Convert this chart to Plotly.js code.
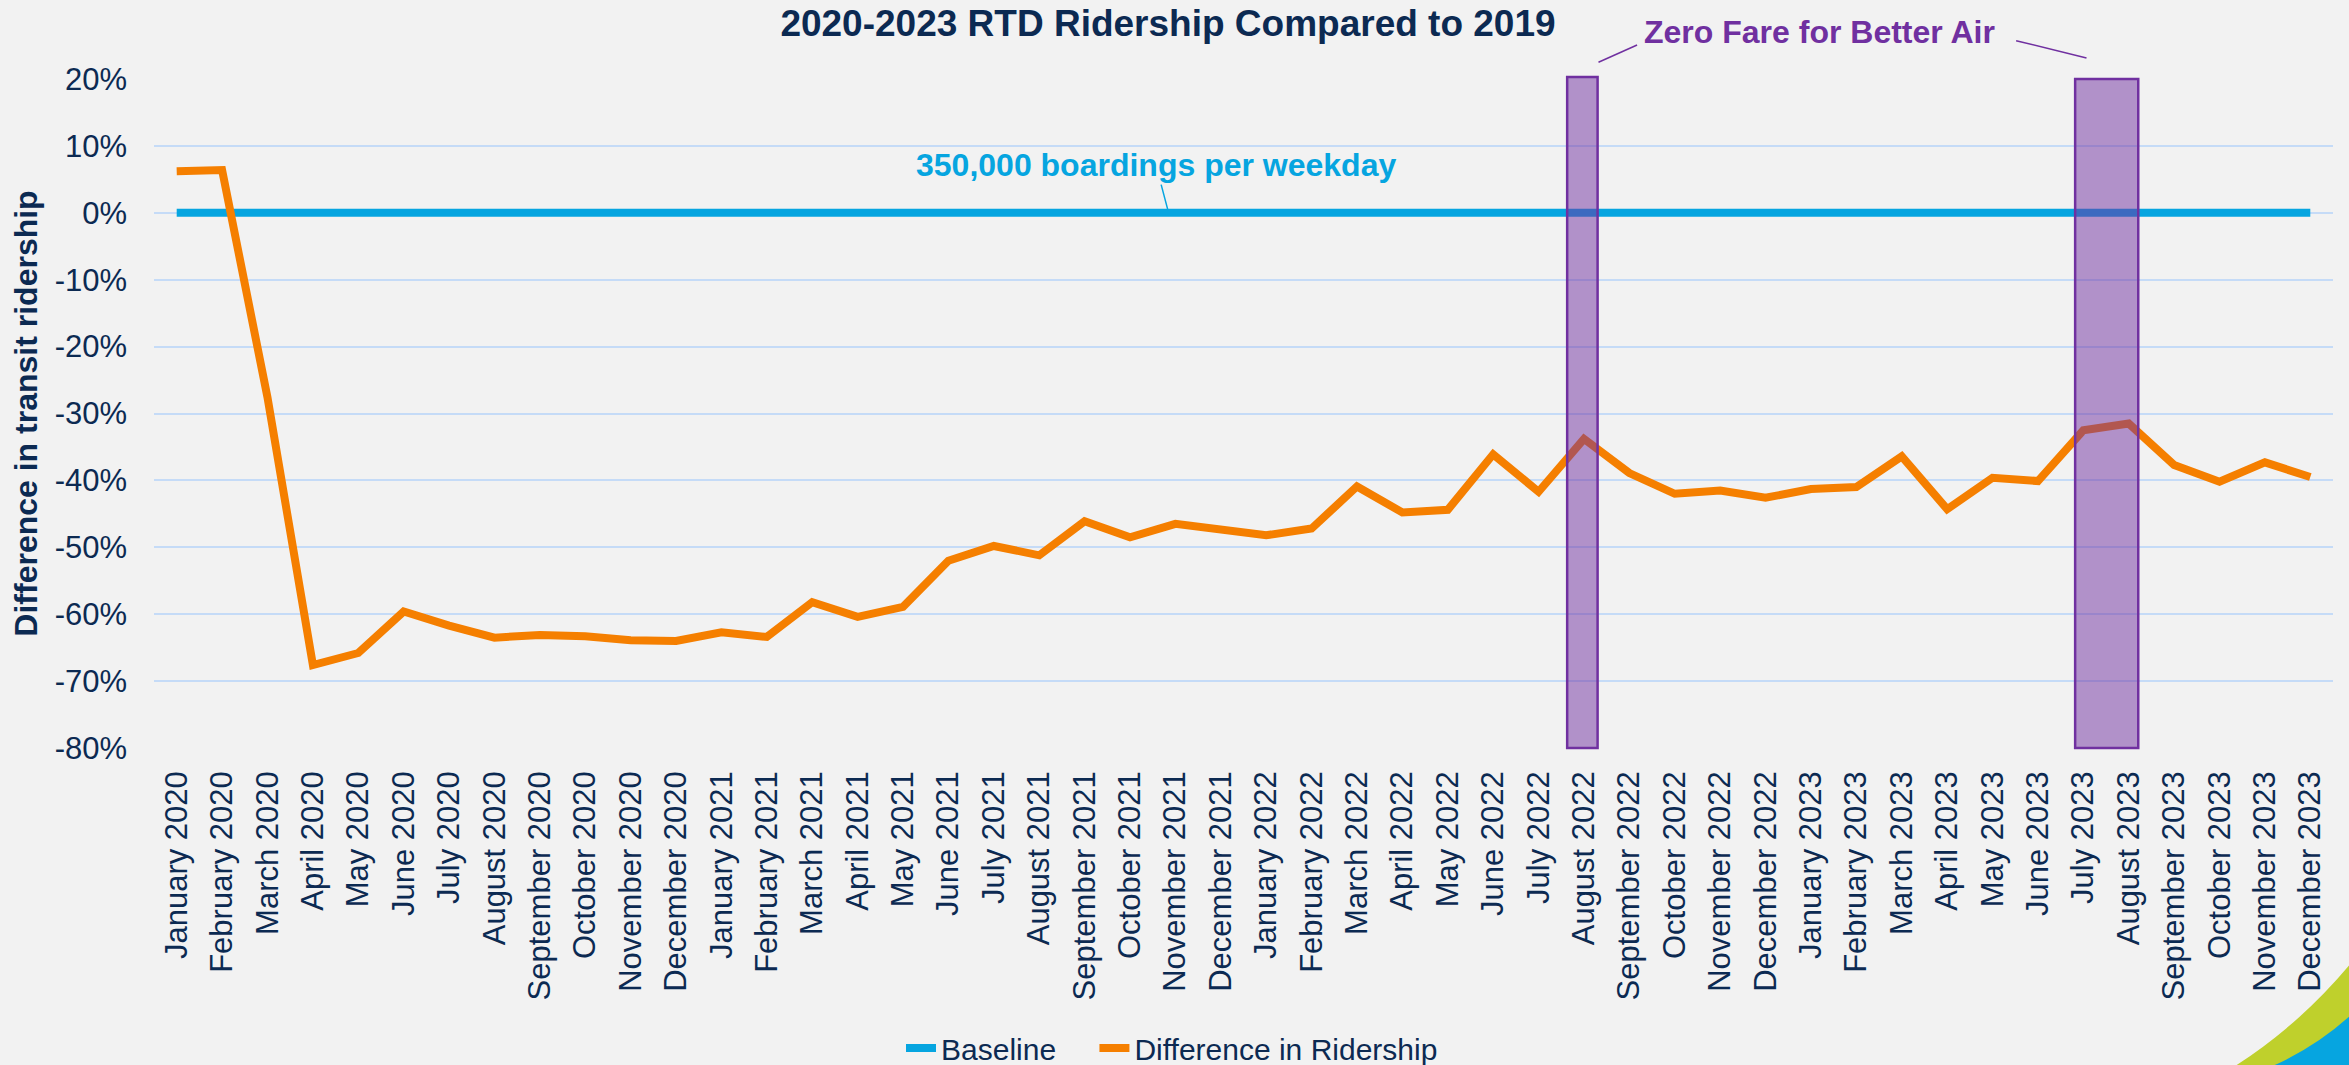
<!DOCTYPE html>
<html>
<head>
<meta charset="utf-8">
<script src="https://cdn.plot.ly/plotly-3.0.1.min.js"></script>
<style>
  html, body { margin: 0; padding: 0; background: #F2F2F2; }
  #chart { width: 2349px; height: 1065px; }
</style>
</head>
<body>
<div id="chart"></div>
<script>
// ---- data ----
const months = [
  "January 2020","February 2020","March 2020","April 2020","May 2020","June 2020",
  "July 2020","August 2020","September 2020","October 2020","November 2020","December 2020",
  "January 2021","February 2021","March 2021","April 2021","May 2021","June 2021",
  "July 2021","August 2021","September 2021","October 2021","November 2021","December 2021",
  "January 2022","February 2022","March 2022","April 2022","May 2022","June 2022",
  "July 2022","August 2022","September 2022","October 2022","November 2022","December 2022",
  "January 2023","February 2023","March 2023","April 2023","May 2023","June 2023",
  "July 2023","August 2023","September 2023","October 2023","November 2023","December 2023"
];
const baseline = months.map(() => 0);
const differenceInRidership = [
  6.2, 6.4, -27.6, -67.6, -65.8, -59.6, -61.7, -63.5, -63.1, -63.3, -63.9, -64.0,
  -62.7, -63.4, -58.2, -60.4, -58.9, -52.0, -49.8, -51.2, -46.1, -48.5, -46.5, -47.2,
  -48.2, -47.2, -40.9, -44.8, -44.4, -36.1, -41.7, -33.8, -38.9, -42.0, -41.5, -42.6,
  -41.3, -41.0, -36.4, -44.3, -39.6, -40.1, -32.5, -31.5, -37.7, -40.2, -37.3, -39.5
];
const zeroFarePeriods = [["August 2022", "August 2022"], ["July 2023", "August 2023"]];
const yTickValues = [20, 10, 0, -10, -20, -30, -40, -50, -60, -70, -80];
const seriesNames = ["Baseline", "Difference in Ridership"];

// ---- styling / layout ----
const W = 2349, H = 1065;
const M = { l: 154, r: 16, t: 79, b: 317 };
const plotW = W - M.l - M.r, plotH = H - M.t - M.b;
const px2paperX = px => (px - M.l) / plotW;
const px2paperY = py => (H - M.b - py) / plotH;

const NAVY = "#0C2A52";
const BLUE = "#06A5E0";
const ORANGE = "#F57F00";
const PURPLE = "#7030A0";
const FONT = "Arial, 'Liberation Sans', sans-serif";
const NBSP = "\u00A0";

const idx = m => months.indexOf(m);
const pads = [[0.37, 0.30], [0.18, 0.21]];
const tops = [1.003, 1.0];

const shapes = [];
zeroFarePeriods.forEach((p, i) => {
  shapes.push({
    type: "rect", layer: "above",
    xref: "x", yref: "paper",
    x0: idx(p[0]) - pads[i][0], x1: idx(p[1]) + pads[i][1],
    y0: 0, y1: tops[i],
    fillcolor: "rgba(112,48,160,0.5)",
    line: { color: PURPLE, width: 2.5 }
  });
});
// leader lines for the "Zero Fare" label
shapes.push({ type: "line", xref: "x", yref: "paper", layer: "above",
  x0: 32.17, y0: px2paperY(45), x1: 31.32, y1: px2paperY(62.3),
  line: { color: PURPLE, width: 1.5 } });
shapes.push({ type: "line", xref: "x", yref: "paper", layer: "above",
  x0: 40.52, y0: px2paperY(40.7), x1: 42.07, y1: px2paperY(58),
  line: { color: PURPLE, width: 1.5 } });

// decorative corner swoosh
function pathPx(pts) {
  return pts.map(c => px2paperX(c[0]).toFixed(5) + "," + px2paperY(c[1]).toFixed(5)).join(" ");
}
shapes.push({ type: "path", xref: "paper", yref: "paper", layer: "above",
  path: "M" + pathPx([[2232, 1068]]) + " Q" + pathPx([[2300, 1025], [2352, 962]]) + " L" + pathPx([[2352, 1068]]) + " Z",
  fillcolor: "#BFD02C", line: { width: 0 } });
shapes.push({ type: "path", xref: "paper", yref: "paper", layer: "above",
  path: "M" + pathPx([[2268, 1068]]) + " Q" + pathPx([[2315, 1048], [2352, 1014]]) + " L" + pathPx([[2352, 1068]]) + " Z",
  fillcolor: "#06A5E0", line: { width: 0 } });

const traces = [
  {
    type: "scatter", mode: "lines", name: seriesNames[0] + NBSP.repeat(4),
    x: months, y: baseline,
    line: { color: BLUE, width: 8 },
    hoverinfo: "skip"
  },
  {
    type: "scatter", mode: "lines", name: seriesNames[1],
    x: months, y: differenceInRidership,
    line: { color: ORANGE, width: 8 },
    hoverinfo: "skip"
  }
];

const layout = {
  width: W, height: H,
  paper_bgcolor: "#F2F2F2",
  plot_bgcolor: "#F2F2F2",
  margin: M,
  showlegend: true,
  font: { family: FONT, color: NAVY, size: 30 },
  title: {
    text: "2020-2023 RTD Ridership Compared to 2019",
    font: { family: FONT, size: 37, color: NAVY, weight: "bold" },
    xref: "container", yref: "container",
    x: 1168 / W, xanchor: "center",
    y: 1 - 23 / H, yanchor: "middle"
  },
  xaxis: {
    type: "category",
    range: [-0.5, months.length - 0.5],
    tickangle: -90,
    tickfont: { family: FONT, size: 31, color: NAVY },
    ticklabelstandoff: 16,
    showgrid: false,
    zeroline: false,
    showline: false,
    ticks: ""
  },
  yaxis: {
    range: [-80, 20],
    tickvals: yTickValues,
    ticktext: yTickValues.map(v => v + "%"),
    tickfont: { family: FONT, size: 31, color: NAVY },
    ticklabelstandoff: 26,
    showgrid: true,
    gridcolor: "#C5DBF7",
    gridwidth: 2,
    zeroline: false,
    showline: false,
    ticks: "",
    title: {
      text: "Difference in transit ridership",
      font: { family: FONT, size: 32, color: NAVY, weight: "bold" },
      standoff: 7
    }
  },
  legend: {
    orientation: "h",
    xref: "container", yref: "container",
    x: 1172 / W, xanchor: "center",
    y: 1 - 1048 / H, yanchor: "middle",
    font: { family: FONT, size: 30, color: NAVY },
    bgcolor: "rgba(0,0,0,0)",
    itemwidth: 30
  },
  shapes: shapes,
  annotations: [
    {
      xref: "paper", yref: "paper",
      x: px2paperX(1819), y: px2paperY(31.7),
      xanchor: "center", yanchor: "middle",
      text: "Zero Fare for Better Air",
      showarrow: false,
      font: { family: FONT, size: 32, color: PURPLE, weight: "bold" }
    },
    {
      xref: "x", yref: "y",
      x: 21.85, y: 0,
      ax: -12.6, ay: -47.7,
      text: "350,000 boardings per weekday",
      showarrow: true, arrowhead: 0, arrowwidth: 1.5, arrowcolor: BLUE,
      standoff: 2,
      font: { family: FONT, size: 32, color: BLUE, weight: "bold" }
    }
  ]
};

Plotly.newPlot("chart", traces, layout, { displayModeBar: false, staticPlot: true });
</script>
</body>
</html>
